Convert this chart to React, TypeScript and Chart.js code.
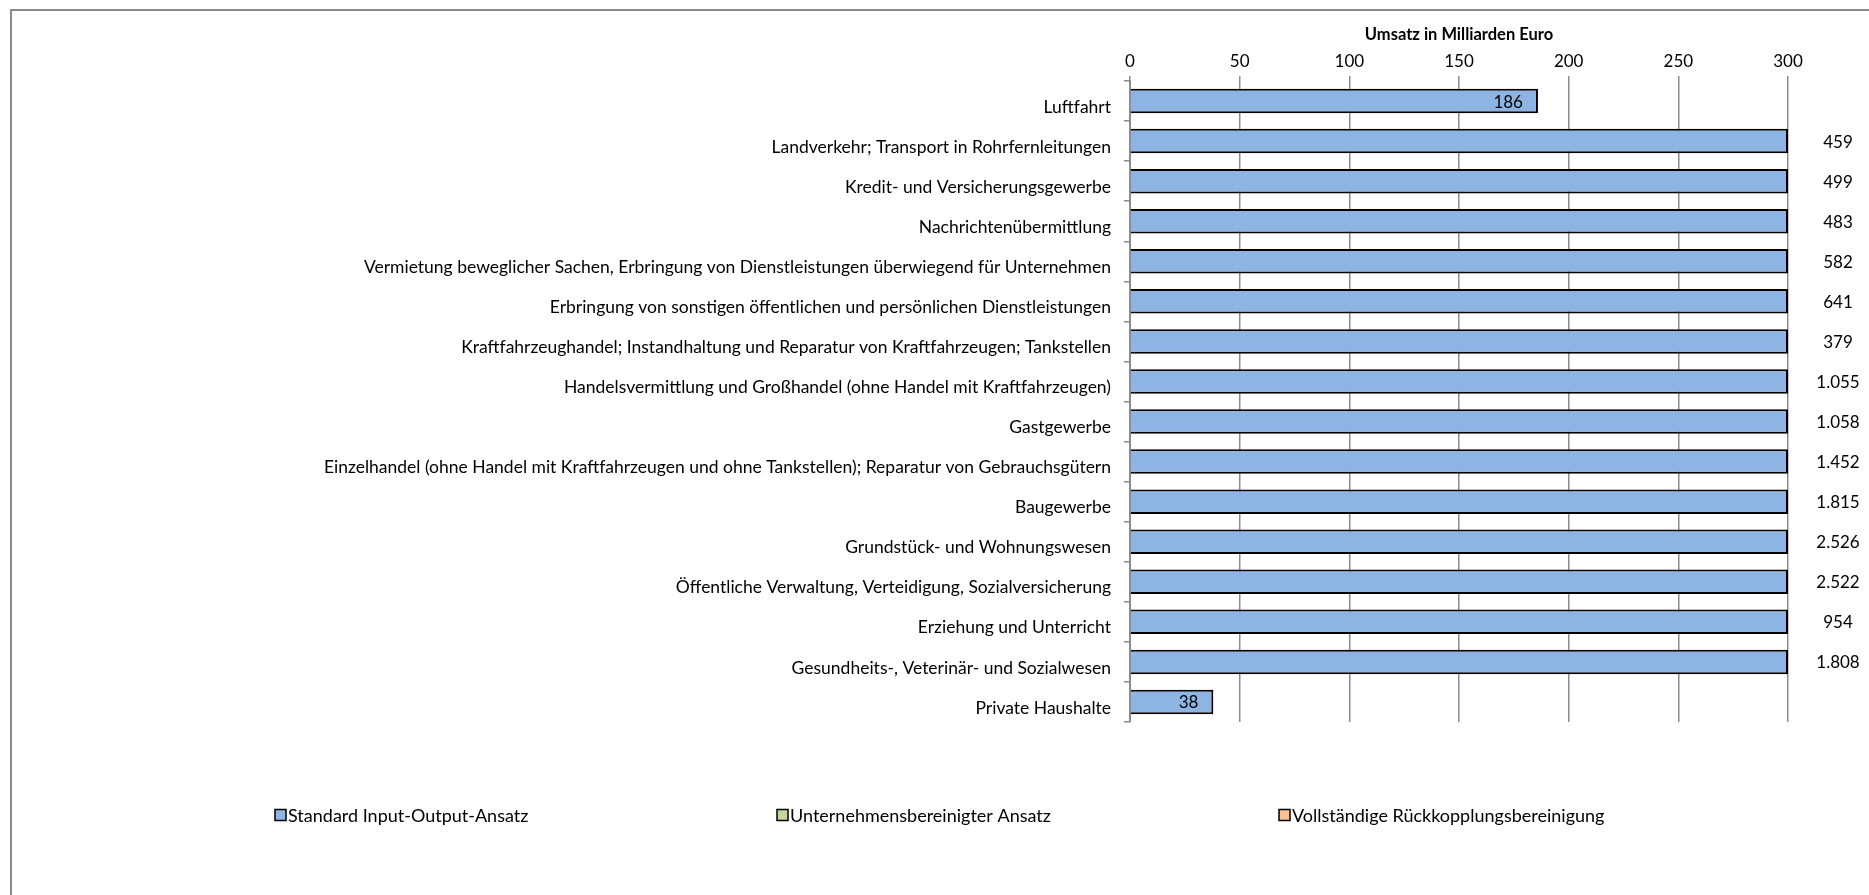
import React, { useEffect, useRef } from "react";
import { Chart, registerables } from "chart.js";

Chart.register(...registerables);

const categories = [
  "Luftfahrt",
  "Landverkehr; Transport in Rohrfernleitungen",
  "Kredit- und Versicherungsgewerbe",
  "Nachrichtenübermittlung",
  "Vermietung beweglicher Sachen, Erbringung von Dienstleistungen überwiegend für Unternehmen",
  "Erbringung von sonstigen öffentlichen und persönlichen Dienstleistungen",
  "Kraftfahrzeughandel; Instandhaltung und Reparatur von Kraftfahrzeugen; Tankstellen",
  "Handelsvermittlung und Großhandel (ohne Handel mit Kraftfahrzeugen)",
  "Gastgewerbe",
  "Einzelhandel (ohne Handel mit Kraftfahrzeugen und ohne Tankstellen); Reparatur von Gebrauchsgütern",
  "Baugewerbe",
  "Grundstück- und Wohnungswesen",
  "Öffentliche Verwaltung, Verteidigung, Sozialversicherung",
  "Erziehung und Unterricht",
  "Gesundheits-, Veterinär- und Sozialwesen",
  "Private Haushalte",
];

const standardValues = [186, 459, 499, 483, 582, 641, 379, 1055, 1058, 1452, 1815, 2526, 2522, 954, 1808, 38];

const xTickValues = [0, 50, 100, 150, 200, 250, 300];
const axisTitle = "Umsatz in Milliarden Euro";

const seriesNames = ["Standard Input-Output-Ansatz", "Unternehmensbereinigter Ansatz", "Vollständige Rückkopplungsbereinigung"];
const seriesColors = ["#8EB4E3", "#C3D69B", "#FAC090"];

const FONT = "Lato, 'Open Sans', sans-serif";
const AXIS_MAX = xTickValues[xTickValues.length - 1];

const fmt = (v: number) => String(v).replace(/\B(?=(\d{3})+(?!\d))/g, ".");

export default function App() {
  const ref = useRef<HTMLCanvasElement | null>(null);

  useEffect(() => {
    if (!ref.current) return;

    const framePlugin = {
      id: "frame",
      beforeDraw(chart: any) {
        const { ctx, width, height } = chart;
        ctx.save();
        ctx.fillStyle = "#ffffff";
        ctx.fillRect(0, 0, width, height);
        ctx.strokeStyle = "#8a8a8a";
        ctx.lineWidth = 2;
        ctx.beginPath();
        ctx.moveTo(11, height + 5);
        ctx.lineTo(11, 10);
        ctx.lineTo(width + 5, 10);
        ctx.stroke();
        ctx.restore();
      },
    };

    const labelPlugin = {
      id: "valueLabels",
      afterDatasetsDraw(chart: any) {
        const { ctx, chartArea } = chart;
        const meta = chart.getDatasetMeta(0);
        ctx.save();
        ctx.font = `17px ${FONT}`;
        ctx.fillStyle = "#000000";
        ctx.textBaseline = "middle";
        meta.data.forEach((el: any, i: number) => {
          const v = standardValues[i];
          if (v <= AXIS_MAX) {
            ctx.textAlign = "right";
            ctx.fillText(fmt(v), el.x - 15, el.y + 1);
          } else {
            ctx.textAlign = "center";
            ctx.fillText(fmt(v), chartArea.right + 50, el.y + 1);
          }
        });
        ctx.restore();
      },
    };

    const legendPlugin = {
      id: "customLegend",
      afterDraw(chart: any) {
        const { ctx } = chart;
        const y = 815;
        const left = 275;
        const slot = 502;
        ctx.save();
        ctx.font = `18px ${FONT}`;
        ctx.textBaseline = "middle";
        ctx.textAlign = "left";
        seriesNames.forEach((name, i) => {
          const x = left + slot * i;
          ctx.fillStyle = seriesColors[i];
          ctx.fillRect(x, y - 5.5, 11, 11);
          ctx.strokeStyle = "#000000";
          ctx.lineWidth = 1.5;
          ctx.strokeRect(x, y - 5.5, 11, 11);
          ctx.fillStyle = "#000000";
          ctx.fillText(name, x + 13, y + 1);
        });
        ctx.restore();
      },
    };

    const chart = new Chart(ref.current, {
      type: "bar",
      data: {
        labels: categories,
        datasets: [
          {
            label: seriesNames[0],
            data: standardValues.map((v) => Math.min(v, AXIS_MAX)),
            backgroundColor: seriesColors[0],
            borderColor: "#000000",
            borderWidth: 2,
            borderSkipped: "start",
            categoryPercentage: 1,
            barPercentage: 0.61,
          },
        ],
      },
      options: {
        indexAxis: "y",
        responsive: false,
        animation: false,
        layout: { padding: { left: 0, right: 81, top: 0, bottom: 173 } },
        plugins: {
          legend: { display: false },
          tooltip: { enabled: false },
        },
        scales: {
          x: {
            type: "linear",
            position: "top",
            min: 0,
            max: AXIS_MAX,
            afterBuildTicks: (scale: any) => {
              scale.ticks = xTickValues.map((v) => ({ value: v }));
            },
            afterFit: (scale: any) => {
              scale.height = 81;
            },
            ticks: {
              font: { family: FONT, size: 17 },
              color: "#000000",
              padding: 4,
            },
            grid: {
              color: "#8c8c8c",
              lineWidth: 1.5,
              tickLength: 5,
            },
            border: { display: false },
            title: {
              display: true,
              text: axisTitle,
              font: { family: FONT, size: 16.5, weight: "bold" },
              color: "#000000",
              padding: { top: 25, bottom: 0 },
            },
          },
          y: {
            type: "category",
            afterFit: (scale: any) => {
              scale.width = 1130;
            },
            ticks: {
              font: { family: FONT, size: 17.5 },
              color: "#000000",
              padding: 13,
              labelOffset: 6,
              autoSkip: false,
            },
            grid: {
              offset: true,
              drawOnChartArea: false,
              drawTicks: true,
              tickLength: 6,
              color: "#8c8c8c",
              lineWidth: 1.5,
            },
            border: { display: true, color: "#8c8c8c", width: 2 },
          },
        },
      },
      plugins: [framePlugin, labelPlugin, legendPlugin],
    } as any);

    return () => chart.destroy();
  }, []);

  return (
    <div style={{ position: "fixed", left: 0, top: 0, width: 1869, height: 895, background: "#fff" }}>
      <canvas ref={ref} width={1869} height={895} style={{ display: "block", width: 1869, height: 895 }} />
    </div>
  );
}
